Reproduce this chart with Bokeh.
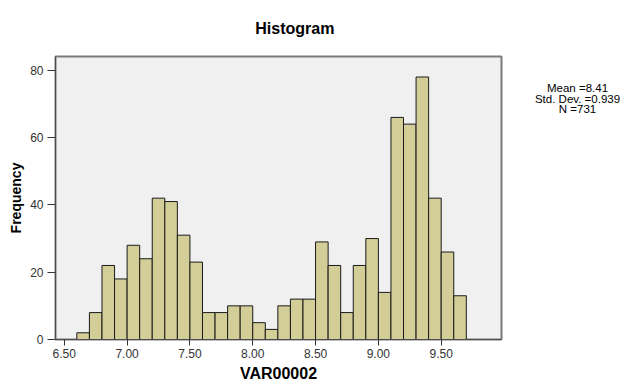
from bokeh.plotting import figure
from bokeh.layouts import row, column
from bokeh.models import FixedTicker, PrintfTickFormatter, Range1d, ColumnDataSource
from bokeh.core.properties import value
from bokeh.embed import file_html
from bokeh.resources import INLINE

# Data
bin_lefts = [6.5, 6.6, 6.7, 6.8, 6.9, 7.0, 7.1, 7.2, 7.3, 7.4, 7.5, 7.6, 7.7, 7.8, 7.9,
             8.0, 8.1, 8.2, 8.3, 8.4, 8.5, 8.6, 8.7, 8.8, 8.9, 9.0, 9.1, 9.2, 9.3, 9.4,
             9.5, 9.6, 9.7]
counts = [0, 2, 8, 22, 18, 28, 24, 42, 41, 31, 23, 8, 8, 10, 10,
          5, 3, 10, 12, 12, 29, 22, 8, 22, 30, 14, 66, 64, 78, 42,
          26, 13, 0]
bin_width = 0.1
x_ticks = [6.5, 7.0, 7.5, 8.0, 8.5, 9.0, 9.5]
y_ticks = [0, 20, 40, 60, 80]
title_text = "Histogram"
x_label = "VAR00002"
y_label = "Frequency"
stats_lines = ["Mean =8.41", "Std. Dev. =0.939", "N =731"]

FONT = "Liberation Sans"

src = ColumnDataSource(dict(
    left=bin_lefts,
    right=[b + bin_width for b in bin_lefts],
    top=counts,
    bottom=[0] * len(counts),
))

# main histogram
p = figure(frame_width=446, frame_height=283, output_backend="svg", toolbar_location=None,
           x_range=Range1d(6.43, 9.98), y_range=Range1d(0, 84.1),
           min_border_left=55, min_border_right=4, min_border_top=16, min_border_bottom=44)

p.quad(left="left", right="right", top="top", bottom="bottom", source=src,
       fill_color="#D3CE98", line_color="#1a1a1a", line_width=1)

p.background_fill_color = "#F0F0F0"
p.border_fill_color = "white"
p.outline_line_color = "#7a7a7a"
p.outline_line_width = 2
p.xgrid.visible = False
p.ygrid.visible = False

for ax in (p.xaxis[0], p.yaxis[0]):
    ax.major_label_text_font = FONT
    ax.major_label_text_font_size = "12px"
    ax.major_label_text_color = "#333333"
    ax.axis_label_text_font = FONT
    ax.axis_label_text_font_style = "bold"
    ax.axis_label_text_color = "black"
    ax.minor_tick_line_color = None
    ax.major_tick_in = 0
    ax.major_tick_line_color = "#333333"
    ax.axis_line_color = "#4d4d4d"
    ax.axis_line_width = 1

p.xaxis.ticker = FixedTicker(ticks=x_ticks)
p.xaxis.formatter = PrintfTickFormatter(format="%.2f")
p.xaxis.axis_label = x_label
p.xaxis.axis_label_text_font_size = "16px"
p.xaxis.major_tick_out = 6
p.xaxis.major_label_standoff = 3
p.xaxis.axis_label_standoff = 4

p.yaxis.ticker = FixedTicker(ticks=y_ticks)
p.yaxis.axis_label = y_label
p.yaxis.axis_label_text_font_size = "14px"
p.yaxis.major_tick_out = 8
p.yaxis.major_label_standoff = 4
p.yaxis.axis_label_standoff = 3

# title strip (pixel-space figure)
t = figure(width=505, height=40, output_backend="svg", toolbar_location=None,
           x_range=Range1d(0, 505), y_range=Range1d(40, 0),
           x_axis_type=None, y_axis_type=None,
           min_border=0, min_border_left=0, min_border_right=0,
           min_border_top=0, min_border_bottom=0)
t.outline_line_color = None
t.background_fill_color = "white"
t.border_fill_color = "white"
t.text(x=[271], y=[28], text=[title_text], text_align="center", text_baseline="alphabetic",
       text_font=value(FONT), text_font_size="16px", text_font_style="bold",
       text_color="black")

# statistics box (pixel-space figure)
s = figure(width=125, height=383, output_backend="svg", toolbar_location=None,
           x_range=Range1d(0, 125), y_range=Range1d(383, 0),
           x_axis_type=None, y_axis_type=None,
           min_border=0, min_border_left=0, min_border_right=0,
           min_border_top=0, min_border_bottom=0)
s.outline_line_color = None
s.background_fill_color = "white"
s.border_fill_color = "white"
s.text(x=[72] * len(stats_lines), y=[87.5 + 10.5 * i for i in range(len(stats_lines))],
       text=stats_lines, text_align="center", text_baseline="alphabetic",
       text_font=value(FONT), text_font_size="11.5px", text_color="black")

layout = row(column(t, p, spacing=0), s, spacing=0)

open("out.html", "w").write(file_html(layout, INLINE))
